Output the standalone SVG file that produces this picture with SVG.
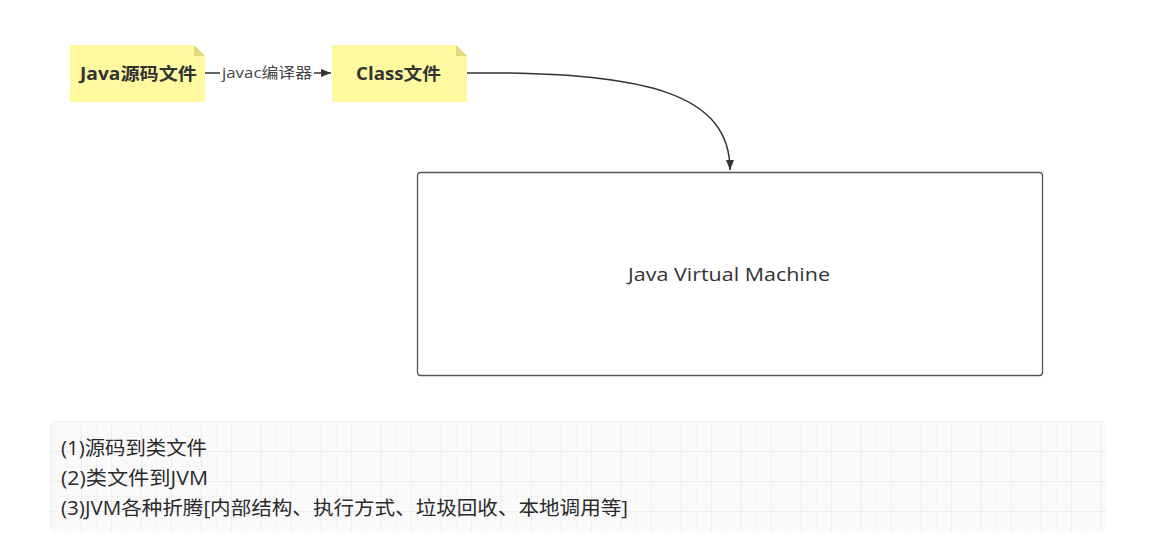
<svg xmlns="http://www.w3.org/2000/svg" width="1154" height="545" viewBox="0 0 1154 545">
<defs>
<style>
.note{fill:#fff9a0;}
.fold{fill:#e0d97a;}
.nt{font-family:"Open Sans","Noto Sans CJK SC",sans-serif;font-weight:bold;font-size:17.5px;fill:#333;}
.lbl{font-family:"Open Sans","Noto Sans CJK SC",sans-serif;font-size:15px;fill:#444;}
.edge{fill:none;stroke:#333;stroke-width:1.5;}
.box{fill:#fff;stroke:#555;stroke-width:1.3;}
.bt{font-family:"Open Sans","Noto Sans CJK SC",sans-serif;font-size:19px;fill:#333;}
.mt{font-family:"Open Sans","Noto Sans CJK SC",sans-serif;font-size:19.5px;fill:#2a2a2a;}
</style>
<marker id="arr" viewBox="0 0 10 10" refX="10" refY="5" markerWidth="10" markerHeight="10" markerUnits="userSpaceOnUse" orient="auto">
<path d="M0,1 L10,5 L0,9 z" fill="#333"/>
</marker>
<pattern id="gridMinor" width="15" height="15" patternUnits="userSpaceOnUse" x="6" y="1">
<path d="M15,0 L0,0 L0,15" fill="none" stroke="#efefef" stroke-width="0.8"/>
</pattern>
<pattern id="gridMajor" width="30" height="30" patternUnits="userSpaceOnUse" x="21" y="1">
<path d="M30,0 L0,0 L0,30" fill="none" stroke="#e6e6e6" stroke-width="1"/>
</pattern>
</defs>
<rect width="1154" height="545" fill="#fff"/>

<g id="notes-panel">
<rect x="50" y="421" width="1057" height="111" rx="8" fill="#fafafa"/>
<rect x="50" y="421" width="1057" height="111" rx="8" fill="url(#gridMinor)"/>
<rect x="50" y="421" width="1057" height="111" rx="8" fill="url(#gridMajor)"/>
<text class="mt" x="61" y="455" textLength="146" lengthAdjust="spacingAndGlyphs">(1)源码到类文件</text>
<text class="mt" x="61" y="485" textLength="147" lengthAdjust="spacingAndGlyphs">(2)类文件到JVM</text>
<text class="mt" x="61" y="515" textLength="567" lengthAdjust="spacingAndGlyphs">(3)JVM各种折腾[内部结构、执行方式、垃圾回收、本地调用等]</text>
</g>

<g id="connectors">
<line class="edge" x1="205" y1="73" x2="220" y2="73"/>
<line class="edge" x1="314" y1="73" x2="331" y2="73" marker-end="url(#arr)"/>
<text class="lbl" x="222" y="78" textLength="90" lengthAdjust="spacingAndGlyphs">javac编译器</text>
<path class="edge" d="M467,73 C650,71 730,95 730,170" marker-end="url(#arr)"/>
</g>

<g id="node-java-src">
<path class="note" d="M70,45 H194 L205,56 V102 H70 Z"/>
<path class="fold" d="M194,45 L205,56 H194 Z"/>
<text class="nt" x="80" y="80" textLength="117" lengthAdjust="spacingAndGlyphs">Java源码文件</text>
</g>

<g id="node-class">
<path class="note" d="M332,45 H456 L467,56 V102 H332 Z"/>
<path class="fold" d="M456,45 L467,56 H456 Z"/>
<text class="nt" x="356" y="80" textLength="85" lengthAdjust="spacingAndGlyphs">Class文件</text>
</g>

<g id="node-jvm">
<rect class="box" x="417.5" y="172.5" width="625" height="203" rx="3"/>
<text class="bt" x="628" y="281" textLength="202" lengthAdjust="spacingAndGlyphs">Java Virtual Machine</text>
</g>
</svg>
